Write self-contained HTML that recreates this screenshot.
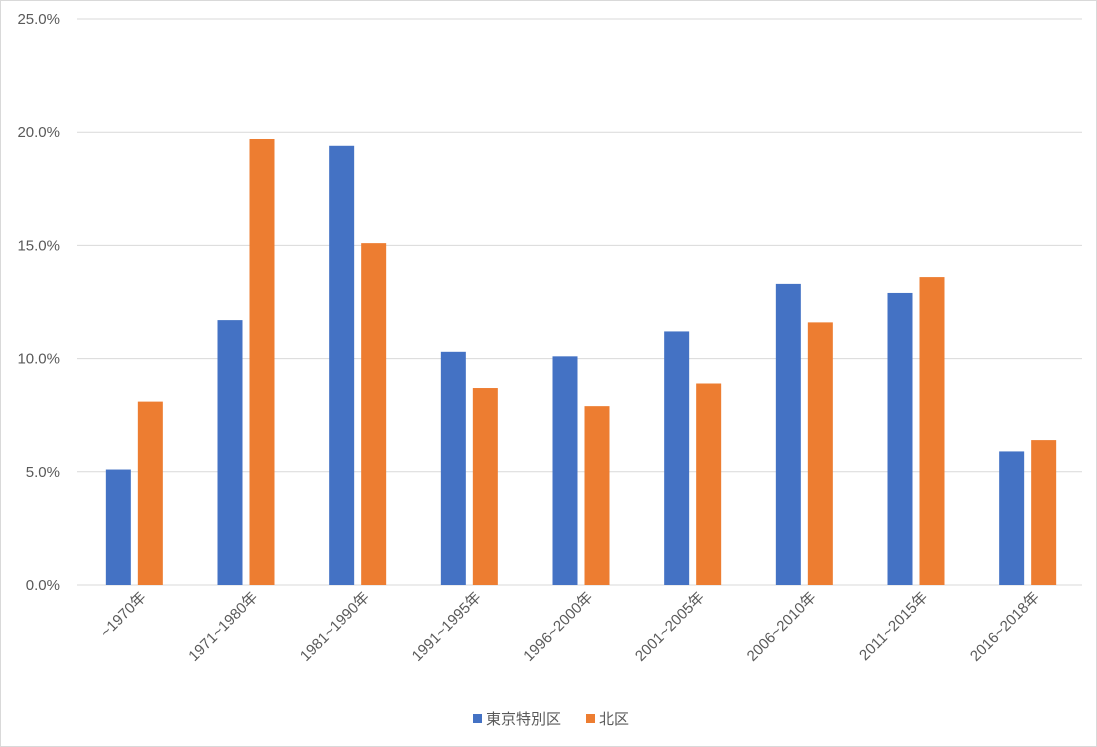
<!DOCTYPE html>
<html><head><meta charset="utf-8"><style>
body{margin:0;background:#fff;}
svg{display:block;font-family:"Liberation Sans","Noto Sans CJK JP",sans-serif;}
</style></head><body>
<svg id="chart" width="1097" height="747" viewBox="0 0 1097 747">
<rect x="0.5" y="0.5" width="1096" height="746" fill="#fff" stroke="#d9d9d9"/>
<g id="grid"></g><g id="bars"></g><g id="labels"></g>
<g>
<rect x="473" y="714" width="9" height="9" fill="#4472c4"/>
<text x="486" y="724" font-size="15" fill="#595959">東京特別区</text>
<rect x="586" y="714" width="9" height="9" fill="#ed7d31"/>
<text x="599" y="724" font-size="15" fill="#595959">北区</text>
</g>
</svg>
<script>
const categories=["~1970年","1971~1980年","1981~1990年","1991~1995年","1996~2000年","2001~2005年","2006~2010年","2011~2015年","2016~2018年"];
const tokyo=[5.1,11.7,19.4,10.3,10.1,11.2,13.3,12.9,5.9];
const kita=[8.1,19.7,15.1,8.7,7.9,8.9,11.6,13.6,6.4];
const yTicks=[0,5,10,15,20,25];
const NS="http://www.w3.org/2000/svg";
const x0=77,x1=1082,y0=585,y1=19,yMax=25;
const bw=(x1-x0)/categories.length;
function y(v){return y0-(v/yMax)*(y0-y1);}
function cx(i){return x0+bw*(i+0.5);}
function mk(t,a,p){const e=document.createElementNS(NS,t);for(const k in a)e.setAttribute(k,a[k]);p.appendChild(e);return e;}
const grid=document.getElementById('grid'),bars=document.getElementById('bars'),labels=document.getElementById('labels');
yTicks.forEach(v=>{
 const l=mk('line',{x1:x0,x2:x1,y1:y(v),y2:y(v),stroke:'#d9d9d9','stroke-width':1},grid);
 
 
 const t=mk('text',{x:60,y:y(v)+5,'text-anchor':'end','font-size':15,fill:'#595959'},grid);
 t.textContent=v.toFixed(1)+'%';
 
 
});
categories.forEach((c,i)=>{
 const b1=mk('rect',{x:cx(i)-27,y:y(tokyo[i]),width:25,height:y0-y(tokyo[i]),fill:'#4472c4'},bars);
 
 
 const b2=mk('rect',{x:cx(i)+5,y:y(kita[i]),width:25,height:y0-y(kita[i]),fill:'#ed7d31'},bars);
 
 
 const lx=cx(i)+14,ly=598;
 const t=mk('text',{x:lx,y:ly,'text-anchor':'end','font-size':15,fill:'#595959',transform:`rotate(-45 ${lx} ${ly})`},labels);
 t.textContent=c;
 
 
});
</script>
</body></html>
